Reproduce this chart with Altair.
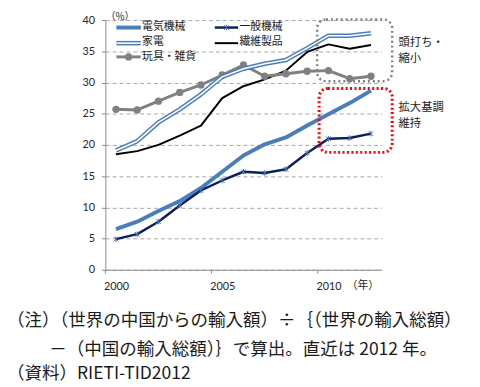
import altair as alt
import pandas as pd

years = list(range(2000, 2013))
series_names = ['電気機械', '一般機械', '家電', '繊維製品', '玩具・雑貨']
elec = [6.5, 7.7, 9.4, 11.0, 13.1, 15.7, 18.3, 20.1, 21.2, 23.1, 24.9, 26.7, 28.7]
general = [4.9, 5.7, 7.7, 10.3, 12.7, 14.3, 15.7, 15.5, 16.1, 18.7, 21.0, 21.1, 21.8]
appliance = [19.1, 20.6, 23.6, 25.7, 28.1, 30.9, 32.2, 33.0, 33.6, 35.5, 37.5, 37.5, 37.9]
textile = [18.5, 19.0, 20.0, 21.5, 23.1, 27.5, 29.4, 30.5, 31.9, 34.9, 36.1, 35.4, 36.0]
toys = [25.7, 25.6, 27.0, 28.4, 29.6, 31.2, 32.8, 31.0, 31.4, 31.8, 31.9, 30.6, 31.0]
values = {'電気機械': elec, '一般機械': general, '家電': appliance,
          '繊維製品': textile, '玩具・雑貨': toys}

x_labels = [2000, 2005, 2010]
y_ticks = list(range(0, 45, 5))
notes = ['（注）（世界の中国からの輸入額）÷｛（世界の輸入総額）',
         '－（中国の輸入総額）｝で算出。直近は 2012 年。',
         '（資料）RIETI-TID2012']
ann_top = ['頭打ち・', '縮小']
ann_bottom = ['拡大基調', '維持']

rows = []
for name in series_names:
    for yr, v in zip(years, values[name]):
        rows.append({'series': name, 'year': yr, 'value': v})
df = pd.DataFrame(rows)

# legend layout (data coordinates)
leg_rows = []
for i, name in enumerate(series_names):
    col, row = i % 2, i // 2
    x0 = [2000.02, 2004.65][col]
    x1 = [2001.17, 2005.75][col]
    ly = [38.8, 36.3, 34.1][row]
    leg_rows.append({'series': name, 'col': col, 'lx0': x0, 'lx1': x1, 'lxm': (x0 + x1) / 2,
                     'ltx': x1 + 0.06, 'ly': ly})
leg = pd.DataFrame(leg_rows)

xs = alt.Scale(domain=[1999.5, 2012.5], nice=False, zero=False)
ys = alt.Scale(domain=[0, 40], nice=False)
xaxis = alt.Axis(values=x_labels, format='d', grid=False, ticks=False,
                 domainColor='#8c8c8c', labelFont='Lato', labelFontSize=11,
                 labelColor='#262626', labelPadding=11, title=None)
yaxis = alt.Axis(values=y_ticks, grid=True, gridDash=[4, 3], gridColor='#a6a6a6',
                 domainColor='#8c8c8c', tickColor='#8c8c8c', tickSize=4,
                 labelFont='Lato', labelFontSize=11, labelColor='#262626',
                 labelPadding=7, title=None)


def X(f):
    return alt.X(f, type='quantitative', scale=xs, axis=xaxis)


def Y(f):
    return alt.Y(f, type='quantitative', scale=ys, axis=yaxis)


styles = {
    '繊維製品': [dict(color='#000000', strokeWidth=2)],
    '玩具・雑貨': [dict(color='#808080', strokeWidth=3)],
    '家電': [dict(color='#4a7ebb', strokeWidth=4.6), dict(color='#ffffff', strokeWidth=1.6)],
    '電気機械': [dict(color='#4a7ebb', strokeWidth=4)],
    '一般機械': [dict(color='#0c1f5e', strokeWidth=2.5)],
}
star = 'M-1,-1L1,1M-1,1L1,-1M0,-1.2L0,1.2'

layers = []

# x-axis ticks between categories
tick_df = pd.DataFrame({'t': [1999.5, 2004.5, 2009.5]})
layers.append(alt.Chart(tick_df).mark_rule(color='#8c8c8c', strokeWidth=1).encode(
    x=X('t'), y=alt.value(254), y2=alt.value(258)))

for name in ['繊維製品', '玩具・雑貨', '家電', '電気機械', '一般機械']:
    for st in styles[name]:
        layers.append(alt.Chart(df).transform_filter(alt.datum.series == name)
                      .mark_line(strokeJoin='round', **st)
                      .encode(x=X('year'), y=Y('value')))
        layers.append(alt.Chart(leg).transform_filter(alt.datum.series == name)
                      .mark_rule(**st)
                      .encode(x=X('lx0'), x2='lx1', y=Y('ly')))
    if name == '玩具・雑貨':
        layers.append(alt.Chart(df).transform_filter(alt.datum.series == name)
                      .mark_point(shape='circle', filled=True, size=55, color='#808080', opacity=1)
                      .encode(x=X('year'), y=Y('value')))
        layers.append(alt.Chart(leg).transform_filter(alt.datum.series == name)
                      .mark_point(shape='circle', filled=True, size=55, color='#808080', opacity=1)
                      .encode(x=X('lxm'), y=Y('ly')))
    if name == '一般機械':
        layers.append(alt.Chart(df).transform_filter(alt.datum.series == name)
                      .mark_point(shape=star, filled=False, size=22, color='#4a6fb0', strokeWidth=1, opacity=1)
                      .encode(x=X('year'), y=Y('value')))
        layers.append(alt.Chart(leg).transform_filter(alt.datum.series == name)
                      .mark_point(shape=star, filled=False, size=22, color='#4a6fb0', strokeWidth=1, opacity=1)
                      .encode(x=X('lxm'), y=Y('ly')))

# legend labels: one multi-line text block per legend column
for col in (0, 1):
    sub = leg[leg['col'] == col]
    lines = list(sub['series'])
    first = sub.iloc[[0]][['ltx', 'ly']]
    layers.append(alt.Chart(first).mark_text(
        text=lines, align='left', baseline='middle', lineHeight=15,
        font='Noto Sans CJK JP', fontSize=11, color='#1a1a1a')
        .encode(x=X('ltx'), y=Y('ly')))

# annotation boxes
box_gray = pd.DataFrame({'x0': [2009.47], 'x1': [2013.0], 'y0': [40.1], 'y1': [30.2]})
box_red = pd.DataFrame({'x0': [2009.56], 'x1': [2013.0], 'y0': [29.05], 'y1': [18.8]})
layers.append(alt.Chart(box_gray).mark_rect(fill='transparent', stroke='#7f7f7f', strokeDash=[2, 3],
                                            strokeWidth=2.5, cornerRadius=9)
              .encode(x=X('x0'), x2='x1', y=Y('y0'), y2='y1'))
layers.append(alt.Chart(box_red).mark_rect(fill='transparent', stroke='#ff0000', strokeDash=[2, 2.5],
                                           strokeWidth=3, cornerRadius=9)
              .encode(x=X('x0'), x2='x1', y=Y('y0'), y2='y1'))

ann_pos = pd.DataFrame({'ax': [2013.3], 'ay': [36.25]})
layers.append(alt.Chart(ann_pos).mark_text(
    text=ann_top, align='left', baseline='middle', lineHeight=15.5,
    font='Noto Sans CJK JP', fontSize=11.5, color='#1a1a1a')
    .encode(x=X('ax'), y=Y('ay')))
ann_pos2 = pd.DataFrame({'ax': [2013.3], 'ay': [25.85]})
layers.append(alt.Chart(ann_pos2).mark_text(
    text=ann_bottom, align='left', baseline='middle', lineHeight=15.5,
    font='Noto Sans CJK JP', fontSize=11.5, color='#1a1a1a')
    .encode(x=X('ax'), y=Y('ay')))

# unit labels
layers.append(alt.Chart(pd.DataFrame({'t': ['（%）']})).mark_text(
    align='center', baseline='middle', font='Noto Sans CJK JP', fontSize=10, color='#262626')
    .encode(text='t:N', x=alt.value(15), y=alt.value(-3)))
layers.append(alt.Chart(pd.DataFrame({'t': ['（年）']})).mark_text(
    align='center', baseline='middle', font='Noto Sans CJK JP', fontSize=11, color='#262626')
    .encode(text='t:N', x=alt.value(262), y=alt.value(271)))

# footnotes
note_pos = [(-100, 306), (-57, 336), (-100, 360)]
for txt, (px, py) in zip(notes, note_pos):
    layers.append(alt.Chart(pd.DataFrame({'t': [txt]})).mark_text(
        align='left', baseline='middle', font='Noto Sans CJK JP', fontSize=17.8, color='#1a1a1a')
        .encode(text='t:N', x=alt.value(px), y=alt.value(py)))

chart = alt.layer(*layers).properties(
    width=281, height=254,
    padding={'left': 99, 'top': 9, 'right': 92, 'bottom': 116},
    autosize=alt.AutoSizeParams(type='none'),
).configure_view(strokeWidth=0)

chart.save("out.html", embed_options={"renderer": "svg", "actions": False})
